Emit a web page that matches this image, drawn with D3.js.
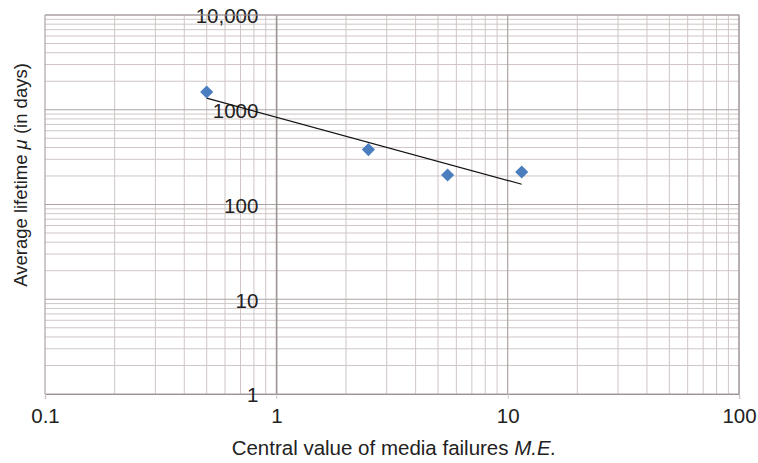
<!DOCTYPE html>
<html>
<head>
<meta charset="utf-8">
<script src="https://cdn.jsdelivr.net/npm/d3@7"></script>
<style>
  body { margin: 0; background: #fff; }
  svg text { font-family: "Liberation Sans", Arial, Helvetica, sans-serif; fill: #222; }
</style>
</head>
<body>
<div id="chart"></div>
<script>
// media failures (central value) vs. average lifetime in days
var failures = [0.5, 2.5, 5.5, 11.5];
var lifetimes = [1540, 380, 205, 220];
var xTicks = [0.1, 1, 10, 100];
var yTicks = [1, 10, 100, 1000, 10000];
var yTickLabels = ["1", "10", "100", "1000", "10,000"];

var width = 758, height = 463;
var margin = {top: 15, right: 19, bottom: 69, left: 45};

var svg = d3.select("#chart").append("svg")
  .attr("width", width)
  .attr("height", height);

var x = d3.scaleLog().domain([0.1, 100]).range([margin.left, width - margin.right]);
var y = d3.scaleLog().domain([1, 10000]).range([height - margin.bottom, margin.top]);

// every 1..9 step in each decade
function minorTicks(scale) {
  var d = scale.domain(), out = [];
  for (var e = Math.log10(d[0]); e < Math.log10(d[1]); e++) {
    for (var k = 2; k <= 9; k++) out.push(k * Math.pow(10, e));
  }
  return out;
}

var grid = svg.append("g");
grid.selectAll("line.vminor").data(minorTicks(x)).join("line")
  .attr("x1", d => x(d)).attr("x2", d => x(d))
  .attr("y1", y(1)).attr("y2", y(10000))
  .attr("stroke", "#d0c6c6").attr("stroke-width", 1);
grid.selectAll("line.hminor").data(minorTicks(y)).join("line")
  .attr("x1", x(0.1)).attr("x2", x(100))
  .attr("y1", d => y(d)).attr("y2", d => y(d))
  .attr("stroke", "#d0c6c6").attr("stroke-width", 1);
grid.selectAll("line.vmajor").data(xTicks).join("line")
  .attr("x1", d => x(d)).attr("x2", d => x(d))
  .attr("y1", y(1)).attr("y2", y(10000))
  .attr("stroke", "#ada3a3").attr("stroke-width", 1.2);
grid.selectAll("line.hmajor").data(yTicks).join("line")
  .attr("x1", x(0.1)).attr("x2", x(100))
  .attr("y1", d => y(d)).attr("y2", d => y(d))
  .attr("stroke", "#ada3a3").attr("stroke-width", 1.2);

// x axis along the bottom, small outward ticks
var xAxis = d3.axisBottom(x).tickValues(xTicks).tickFormat(d => d >= 1 ? d3.format("d")(d) : d)
  .tickSize(5).tickPadding(9);
var gx = svg.append("g").attr("transform", `translate(0,${y(1)})`).call(xAxis);
gx.select(".domain").attr("stroke", "#9a9292").attr("stroke-width", 1.2);
gx.selectAll(".tick line").attr("stroke", "#cdc5c5");
gx.selectAll("text").style("font-size", "20.5px").attr("fill", "#222");

// y axis crosses at x = 1
var yAxis = d3.axisLeft(y).tickValues(yTicks).tickFormat((d, i) => yTickLabels[i])
  .tickSize(0).tickPadding(18);
var gy = svg.append("g").attr("transform", `translate(${x(1)},0)`).call(yAxis);
gy.select(".domain").attr("stroke", "#9a9292").attr("stroke-width", 1.2);
gy.selectAll("text").style("font-size", "20.5px").attr("fill", "#222").attr("dy", "0.38em");

// plot frame top/right
svg.append("path")
  .attr("d", `M${x(0.1)},${y(10000)}H${x(100)}V${y(1)}`)
  .attr("fill", "none").attr("stroke", "#a89e9e").attr("stroke-width", 1.2);

// power trendline fitted on log-log values
var lx = failures.map(Math.log10), ly = lifetimes.map(Math.log10);
var mx = d3.mean(lx), my = d3.mean(ly);
var slope = d3.sum(lx, (v, i) => (v - mx) * (ly[i] - my)) / d3.sum(lx, v => (v - mx) * (v - mx));
var icpt = my - slope * mx;
var trendX = d3.extent(failures);
svg.append("line")
  .attr("x1", x(trendX[0])).attr("y1", y(Math.pow(10, icpt + slope * Math.log10(trendX[0]))))
  .attr("x2", x(trendX[1])).attr("y2", y(Math.pow(10, icpt + slope * Math.log10(trendX[1]))))
  .attr("stroke", "#111").attr("stroke-width", 1.2);

// diamond markers
svg.selectAll("path.pt").data(failures).join("path")
  .attr("class", "pt")
  .attr("transform", (d, i) => `translate(${x(d)},${y(lifetimes[i])})`)
  .attr("d", d3.symbol(d3.symbolDiamond2, 110))
  .attr("fill", "#4a7ebf");

// axis titles
var xt = svg.append("text")
  .attr("x", 394).attr("y", 455)
  .attr("text-anchor", "middle")
  .style("font-size", "20.5px");
xt.append("tspan").text("Central value of media failures ");
xt.append("tspan").style("font-style", "italic").text("M.E.");

var yt = svg.append("text")
  .attr("transform", "translate(27,175) rotate(-90)")
  .attr("text-anchor", "middle")
  .style("font-size", "18.5px");
yt.append("tspan").text("Average lifetime ");
yt.append("tspan").style("font-style", "italic").text("\u03bc");
yt.append("tspan").text(" (in days)");
</script>
</body>
</html>
